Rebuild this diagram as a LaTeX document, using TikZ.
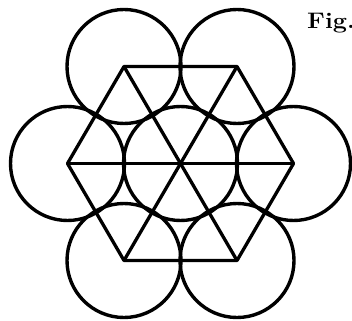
\documentclass[tikz,border=0pt]{standalone}
\usepackage{fontspec}
\begin{document}
\begin{tikzpicture}[x=1pt,y=-1pt,line join=round,
  ring/.style={draw=black,line width=3.4pt},
  edge/.style={draw=black,line width=3.3pt}]
\useasboundingbox (0,0) rectangle (352,320);
\coordinate (O) at (180.5,163.5);
\coordinate (r) at (293.5,163.5);
\coordinate (l) at (67.5,163.5);
\coordinate (tr) at (237,66.5);
\coordinate (tl) at (124,66.5);
\coordinate (br) at (237,260.5);
\coordinate (bl) at (124,260.5);
% hexagon and diagonals
\draw[edge] (tl) -- (tr) -- (r) -- (br) -- (bl) -- (l) -- cycle;
\draw[edge] (tl) -- (br);
\draw[edge] (tr) -- (bl);
\draw[edge] (l) -- (r);
% circles
\foreach \c in {O,r,l,tr,tl,br,bl}{
  \draw[ring] (\c) circle[radius=57];
}
\node[anchor=base west,inner sep=0pt] (fig) at (307,28.5) {\scalebox{1.12}[1]{\fontsize{22.5}{26}\selectfont\bfseries Fig.}};
\end{tikzpicture}
\end{document}
